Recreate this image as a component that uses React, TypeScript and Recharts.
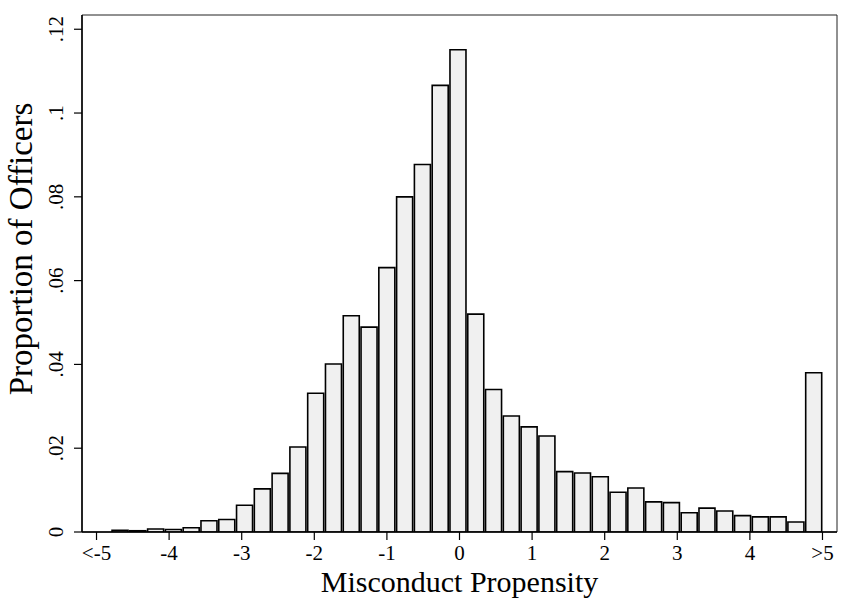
import React from "react";
import {
  BarChart,
  Bar,
  XAxis,
  YAxis,
  ReferenceArea,
} from "recharts";

// histogram bins: 40 bins from the minimum up to the top-coded value (>5)
const binStart = -4.8;
const binWidth = 0.245;

// share of officers in each bin
const shares = [
  0.0004, 0.0003, 0.0007, 0.0006, 0.001, 0.0027, 0.003, 0.0064, 0.0103, 0.014,
  0.0203, 0.0331, 0.0401, 0.0516, 0.0489, 0.0631, 0.08, 0.0877, 0.1066, 0.1151,
  0.052, 0.034, 0.0277, 0.0251, 0.0229, 0.0144, 0.0141, 0.0132, 0.0095, 0.0105,
  0.0072, 0.007, 0.0046, 0.0057, 0.005, 0.0039, 0.0036, 0.0036, 0.0024, 0.038,
];

const xTicks = [-5, -4, -3, -2, -1, 0, 1, 2, 3, 4, 5];
const yTicks = [0, 0.02, 0.04, 0.06, 0.08, 0.1, 0.12];

const xDomain: [number, number] = [-5.2, 5.2];
const yDomain: [number, number] = [0, 0.1234];

const data = shares.map((v, i) => ({
  x: binStart + binWidth * (i + 0.5),
  share: v,
}));

const W = 842;
const H = 598;
const margin = { top: 15, right: 5, left: 22, bottom: 16 };
const yAxisWidth = 60;
const xAxisHeight = 50;
const plotWidth = W - margin.left - margin.right - yAxisWidth;
const barPx = (plotWidth * binWidth) / (xDomain[1] - xDomain[0]);

const FONT = "'Liberation Serif', 'Times New Roman', serif";

const fmtX = (v: number) => (v === -5 ? "<-5" : v === 5 ? ">5" : String(v));
const fmtY = (v: number) =>
  v === 0 ? "0" : String(Number(v.toFixed(2))).replace(/^0/, "");

const XTick = ({ x, y, payload }: any) => (
  <text
    x={x}
    y={y + 18}
    textAnchor="middle"
    fontFamily={FONT}
    fontSize={21}
    fill="#000"
  >
    {fmtX(payload.value)}
  </text>
);

const YTick = ({ x, y, payload }: any) => (
  <text
    x={x - 9}
    y={y}
    transform={`rotate(-90 ${x - 9} ${y})`}
    textAnchor="middle"
    fontFamily={FONT}
    fontSize={21}
    fill="#000"
  >
    {fmtY(payload.value)}
  </text>
);

export default function App() {
  return (
    <div style={{ position: "absolute", left: 0, top: 0, background: "#fff" }}>
      <BarChart width={W} height={H} data={data} margin={margin}>
        <XAxis
          dataKey="x"
          type="number"
          domain={xDomain}
          ticks={xTicks}
          allowDataOverflow
          height={xAxisHeight}
          tickSize={8}
          tickMargin={2}
          tick={<XTick />}
          axisLine={{ stroke: "#000", strokeWidth: 1.5 }}
          tickLine={{ stroke: "#000", strokeWidth: 1.2 }}
        />
        <YAxis
          type="number"
          domain={yDomain}
          ticks={yTicks}
          allowDataOverflow
          width={yAxisWidth}
          tickSize={8}
          tickMargin={2}
          tick={<YTick />}
          axisLine={{ stroke: "#000", strokeWidth: 1.5 }}
          tickLine={{ stroke: "#000", strokeWidth: 1.2 }}
        />
        <ReferenceArea
          x1={xDomain[0]}
          x2={xDomain[1]}
          y1={yDomain[0]}
          y2={yDomain[1]}
          fill="none"
          stroke="#222"
          strokeWidth={1}
          ifOverflow="visible"
        />
        <Bar
          dataKey="share"
          barSize={barPx}
          fill="#f0f0f0"
          stroke="#000"
          strokeWidth={1.6}
          isAnimationActive={false}
        />
        <text
          x={459.5}
          y={591.5}
          textAnchor="middle"
          fontFamily={FONT}
          fontSize={30}
          fill="#000"
        >
          Misconduct Propensity
        </text>
        <text
          x={32}
          y={249}
          transform="rotate(-90 32 249)"
          textAnchor="middle"
          fontFamily={FONT}
          fontSize={33}
          fill="#000"
        >
          Proportion of Officers
        </text>
      </BarChart>
    </div>
  );
}
